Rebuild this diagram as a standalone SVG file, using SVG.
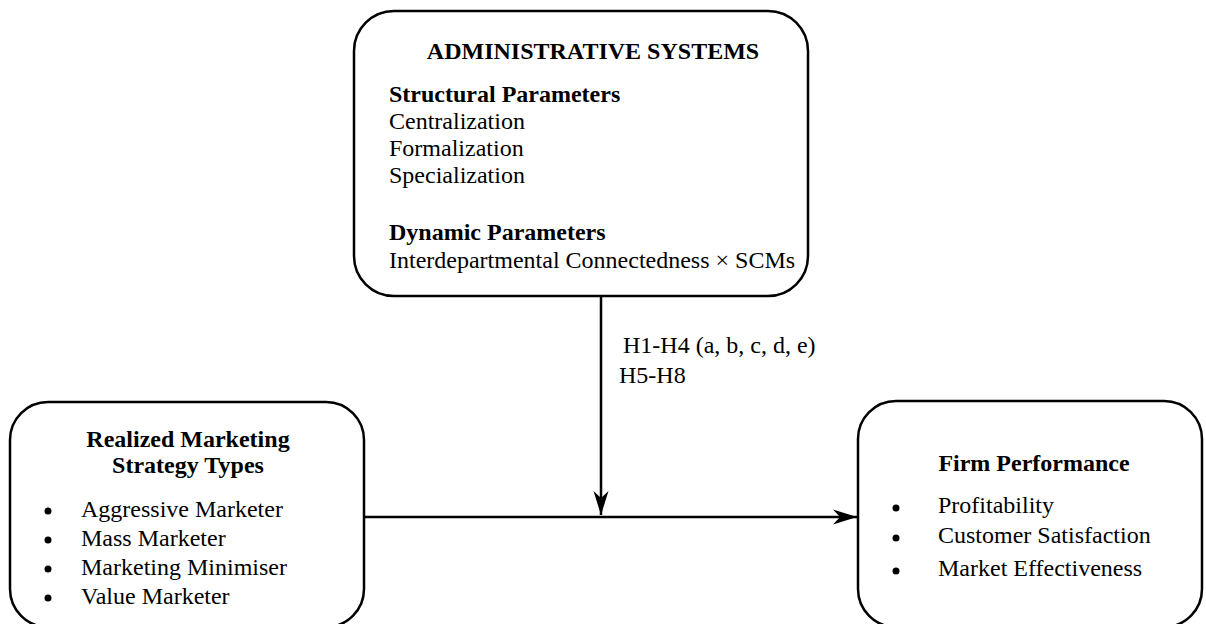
<svg xmlns="http://www.w3.org/2000/svg" width="1206" height="624" viewBox="0 0 1206 624">
<defs>
<marker id="arr" markerUnits="userSpaceOnUse" markerWidth="26" markerHeight="18" viewBox="0 0 26 18" refX="24" refY="9" orient="auto">
<path d="M0,1.5 L24,9 L0,16.5 L7,9 Z" fill="#000"/>
</marker>
</defs>
<style>
.box{fill:#fff;stroke:#000;stroke-width:2.5}
text{font-family:"Liberation Serif","Times New Roman",serif;font-size:24px;fill:#000}
.b{font-weight:bold}
.c{text-anchor:middle}
.dot{fill:#000}
.conn{stroke:#000;stroke-width:2.5;fill:none}
</style>
<rect width="1206" height="624" fill="#fff"/>
<g id="connectors">
<line class="conn" x1="601" y1="297" x2="601" y2="515" marker-end="url(#arr)"/>
<line class="conn" x1="365" y1="517" x2="857" y2="517" marker-end="url(#arr)"/>
<text x="623" y="353">H1-H4 (a, b, c, d, e)</text>
<text x="619" y="383">H5-H8</text>
</g>
<g id="admin">
<rect class="box" x="354" y="11" width="454" height="285" rx="40" ry="40"/>
<text class="b c" x="593" y="59">ADMINISTRATIVE SYSTEMS</text>
<text class="b" x="389" y="102">Structural Parameters</text>
<text x="389" y="129">Centralization</text>
<text x="389" y="156">Formalization</text>
<text x="389" y="183">Specialization</text>
<text class="b" x="389" y="240">Dynamic Parameters</text>
<text x="389" y="268">Interdepartmental Connectedness × SCMs</text>
</g>
<g id="strategy">
<rect class="box" x="10" y="402" width="354" height="225" rx="38" ry="38"/>
<text class="b c" x="188" y="447">Realized Marketing</text>
<text class="b c" x="188" y="473">Strategy Types</text>
<circle class="dot" cx="48" cy="511" r="3.5"/>
<text x="81" y="517">Aggressive Marketer</text>
<circle class="dot" cx="48" cy="540" r="3.5"/>
<text x="81" y="546">Mass Marketer</text>
<circle class="dot" cx="48" cy="569" r="3.5"/>
<text x="81" y="575">Marketing Minimiser</text>
<circle class="dot" cx="48" cy="598" r="3.5"/>
<text x="81" y="604">Value Marketer</text>
</g>
<g id="performance">
<rect class="box" x="858" y="401" width="344" height="226" rx="38" ry="38"/>
<text class="b c" x="1034" y="471">Firm Performance</text>
<circle class="dot" cx="896" cy="508" r="3.5"/>
<text x="938" y="513">Profitability</text>
<circle class="dot" cx="896" cy="538" r="3.5"/>
<text x="938" y="543">Customer Satisfaction</text>
<circle class="dot" cx="896" cy="571" r="3.5"/>
<text x="938" y="576">Market Effectiveness</text>
</g>
</svg>
